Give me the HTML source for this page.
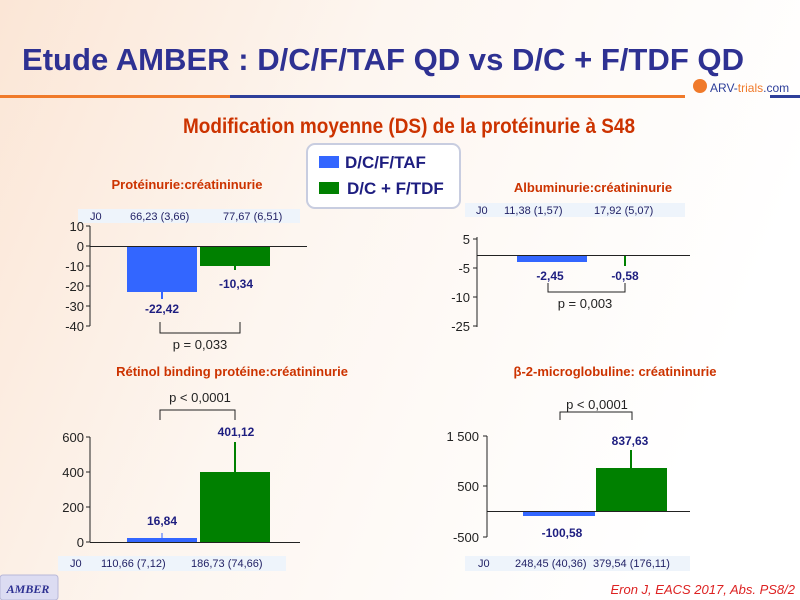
<!DOCTYPE html><html><head><meta charset="utf-8"><style>body{margin:0}svg{display:block}</style></head><body>
<svg width="800" height="600" xmlns="http://www.w3.org/2000/svg" font-family="Liberation Sans, sans-serif">
<defs><linearGradient id="bg" x1="0" y1="0" x2="1" y2="0.3"><stop offset="0" stop-color="#fbe6d6"/><stop offset="0.45" stop-color="#fdf6f0"/><stop offset="1" stop-color="#ffffff"/></linearGradient></defs>
<rect width="800" height="600" fill="url(#bg)"/>
<text x="22" y="70" font-size="31" font-weight="bold" fill="#2e3192" textLength="722" lengthAdjust="spacingAndGlyphs">Etude AMBER : D/C/F/TAF QD vs D/C + F/TDF QD</text>
<rect x="0" y="95" width="230" height="3" fill="#f07a2a"/><rect x="230" y="95" width="230" height="3" fill="#2e3f9a"/><rect x="460" y="95" width="225" height="3" fill="#f07a2a"/><rect x="770" y="95" width="30" height="3" fill="#2e3f9a"/>
<circle cx="700" cy="86" r="7" fill="#f07a2a"/><text x="710" y="92" font-size="12" fill="#2e3f9a">ARV-<tspan fill="#f07a2a">trials</tspan>.com</text>
<text x="183" y="133" font-size="21" font-weight="bold" fill="#cc3300" textLength="452" lengthAdjust="spacingAndGlyphs">Modification moyenne (DS) de la protéinurie à S48</text>
<rect x="307" y="144" width="153" height="64" rx="8" fill="#fff" stroke="#c8cde0" stroke-width="2"/>
<rect x="319" y="156" width="20" height="12" fill="#3366ff"/><text x="345" y="168" font-size="17" font-weight="bold" fill="#1e1e80">D/C/F/TAF</text>
<rect x="319" y="182" width="20" height="12" fill="#008000"/><text x="347" y="194" font-size="17" font-weight="bold" fill="#1e1e80">D/C + F/TDF</text>
<g font-size="13" font-weight="bold" fill="#cc3300" text-anchor="middle">
<text x="187" y="189">Protéinurie:créatininurie</text><text x="593" y="192">Albuminurie:créatininurie</text>
<text x="232" y="376">Rétinol binding protéine:créatininurie</text><text x="615" y="376">β-2-microglobuline:  créatininurie</text></g>
<g font-size="11" fill="#222266">
<rect x="78" y="209" width="222" height="14" fill="#eef4fb"/><text x="90" y="220">J0</text><text x="130" y="220">66,23 (3,66)</text><text x="223" y="220">77,67 (6,51)</text>
<rect x="465" y="203" width="220" height="14" fill="#eef4fb"/><text x="476" y="214">J0</text><text x="504" y="214">11,38 (1,57)</text><text x="594" y="214">17,92 (5,07)</text>
<rect x="58" y="556" width="228" height="15" fill="#eef4fb"/><text x="70" y="567">J0</text><text x="101" y="567">110,66 (7,12)</text><text x="191" y="567">186,73 (74,66)</text>
<rect x="465" y="556" width="225" height="15" fill="#eef4fb"/><text x="478" y="567">J0</text><text x="515" y="567">248,45 (40,36)</text><text x="593" y="567">379,54 (176,11)</text></g>
<g stroke="#222" stroke-width="1" fill="none">
<path d="M90 226V326M86 226H90M86 246H90M86 266H90M86 286H90M86 306H90M86 326H90M90 246.5H307"/>
<path d="M477 237V327M473 239H477M473 268H477M473 297H477M473 326H477M477 255.5H690"/>
<path d="M90 437V542M86 437H90M86 472H90M86 507H90M86 542H90M90 542.5H300"/>
<path d="M487 436V537M483 436H487M483 486H487M483 537H487M487 511.5H690"/>
<path d="M160 322V333H240V322M548 283V292H625V283M160 420V410H235V420M560 420V412H632V420"/></g>
<g font-size="13" fill="#222" text-anchor="end">
<text x="84" y="231">10</text><text x="84" y="251">0</text><text x="84" y="271">-10</text><text x="84" y="291">-20</text><text x="84" y="311">-30</text><text x="84" y="331">-40</text>
<text x="470" y="244">5</text><text x="470" y="273">-5</text><text x="470" y="302">-10</text><text x="470" y="331">-25</text>
<text x="84" y="442">600</text><text x="84" y="477">400</text><text x="84" y="512">200</text><text x="84" y="547">0</text>
<text x="479" y="441">1 500</text><text x="479" y="491">500</text><text x="479" y="542">-500</text></g>
<rect x="127" y="247" width="70" height="45" fill="#3366ff"/><rect x="200" y="247" width="70" height="19" fill="#008000"/>
<path d="M162 292V299" stroke="#3366ff" stroke-width="2"/><path d="M235 266V270" stroke="#008000" stroke-width="2"/>
<rect x="517" y="256" width="70" height="6" fill="#3366ff"/><rect x="624" y="256" width="2" height="10" fill="#008000"/>
<rect x="127" y="538" width="70" height="4" fill="#3366ff"/><path d="M162 538V533" stroke="#3366ff"/>
<rect x="200" y="472" width="70" height="70" fill="#008000"/><path d="M235 472V442" stroke="#008000" stroke-width="2"/>
<rect x="523" y="512" width="72" height="4" fill="#3366ff"/>
<rect x="596" y="468" width="71" height="43" fill="#008000"/><path d="M631 468V450" stroke="#008000" stroke-width="2"/>
<g font-size="12" font-weight="bold" fill="#1e1e80" text-anchor="middle">
<text x="162" y="313">-22,42</text><text x="236" y="288">-10,34</text><text x="550" y="280">-2,45</text><text x="625" y="280">-0,58</text>
<text x="162" y="525">16,84</text><text x="236" y="436">401,12</text><text x="562" y="537">-100,58</text><text x="630" y="445">837,63</text></g>
<g font-size="13" fill="#222" text-anchor="middle">
<text x="200" y="349">p = 0,033</text><text x="585" y="308">p = 0,003</text><text x="200" y="402">p &lt; 0,0001</text><text x="597" y="409">p &lt; 0,0001</text></g>
<rect x="0" y="575" width="58" height="25" rx="3" fill="#dcdcf2" stroke="#b8b8d8"/>
<text x="28" y="593" font-family="Liberation Serif, serif" font-style="italic" font-weight="bold" font-size="12" fill="#2e3192" text-anchor="middle">AMBER</text>
<text x="795" y="594" font-size="13" font-style="italic" fill="#dd2222" text-anchor="end">Eron J, EACS 2017, Abs. PS8/2</text>
</svg></body></html>
